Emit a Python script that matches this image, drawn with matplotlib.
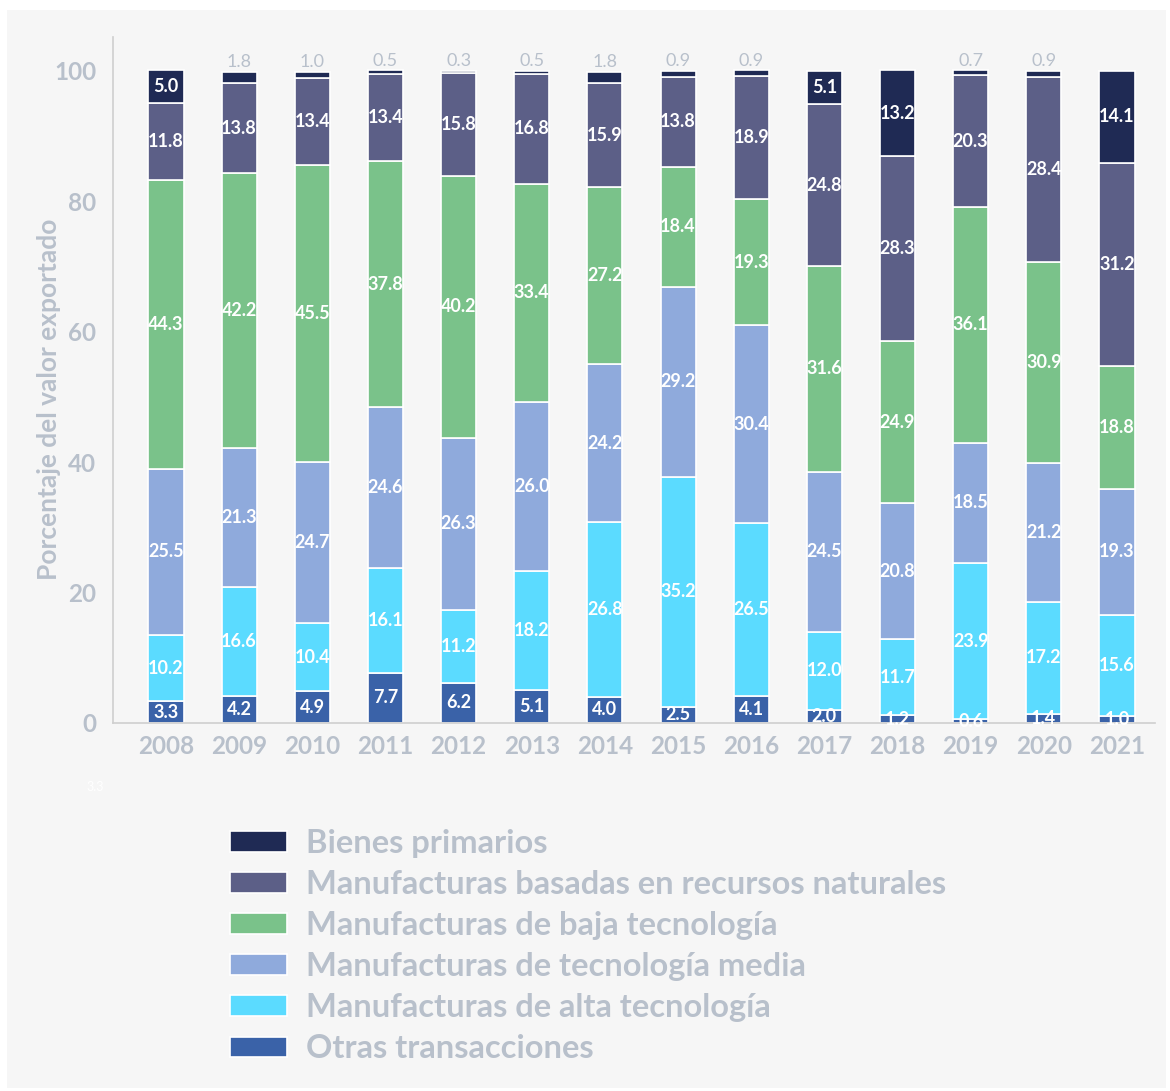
import numpy as np
import matplotlib.pyplot as plt
from matplotlib.patches import Rectangle

plt.rcParams['font.family'] = ['Lato', 'DejaVu Sans']

years = ['2008', '2009', '2010', '2011', '2012', '2013', '2014',
         '2015', '2016', '2017', '2018', '2019', '2020', '2021']

# stacked from bottom to top
otras = [3.3, 4.2, 4.9, 7.7, 6.2, 5.1, 4.0, 2.5, 4.1, 2.0, 1.2, 0.6, 1.4, 1.0]
alta = [10.2, 16.6, 10.4, 16.1, 11.2, 18.2, 26.8, 35.2, 26.5, 12.0, 11.7, 23.9, 17.2, 15.6]
media = [25.5, 21.3, 24.7, 24.6, 26.3, 26.0, 24.2, 29.2, 30.4, 24.5, 20.8, 18.5, 21.2, 19.3]
baja = [44.3, 42.2, 45.5, 37.8, 40.2, 33.4, 27.2, 18.4, 19.3, 31.6, 24.9, 36.1, 30.9, 18.8]
recursos = [11.8, 13.8, 13.4, 13.4, 15.8, 16.8, 15.9, 13.8, 18.9, 24.8, 28.3, 20.3, 28.4, 31.2]
primarios = [5.0, 1.8, 1.0, 0.5, 0.3, 0.5, 1.8, 0.9, 0.9, 5.1, 13.2, 0.7, 0.9, 14.1]

series = [
    ('Otras transacciones', otras, '#3A62A8'),
    ('Manufacturas de alta tecnología', alta, '#5BDBFF'),
    ('Manufacturas de tecnología media', media, '#8FAADC'),
    ('Manufacturas de baja tecnología', baja, '#7AC28A'),
    ('Manufacturas basadas en recursos naturales', recursos, '#5C5F87'),
    ('Bienes primarios', primarios, '#1F2A54'),
]

gray = '#B8C0CB'
bg = '#F6F6F6'

fig = plt.figure(figsize=(11.7, 10.91), dpi=100, facecolor='white')
fig.patches.append(Rectangle((7 / 1170, 1 - 1088 / 1091), 1159 / 1170, 1078 / 1091,
                             transform=fig.transFigure, facecolor=bg, edgecolor='none', zorder=-5))

ax = fig.add_axes([113 / 1170, 1 - 723 / 1091, 1042 / 1170, 686 / 1091])
ax.set_facecolor('none')

x = np.arange(len(years))
bottom = np.zeros(len(years))
handles = []
for name, vals, color in series:
    vals = np.array(vals)
    b = ax.bar(x, vals, 0.48, bottom=bottom, color=color, edgecolor='white',
               linewidth=1.2, label=name)
    handles.append(b)
    for i, v in enumerate(vals):
        if name == 'Bienes primarios' and v < 3:
            ax.text(x[i], bottom[i] + v + 0.25, f'{v:.1f}', ha='center', va='bottom',
                    color=gray, fontsize=13)
        else:
            ax.text(x[i], bottom[i] + v / 2, f'{v:.1f}', ha='center', va='center',
                    color='white', fontsize=13, fontweight='bold')
    bottom += vals

ax.set_xlim(-0.725, 13.52)
ax.set_ylim(0, 105.2)
ax.set_xticks(x)
ax.set_xticklabels(years)
ax.set_yticks([0, 20, 40, 60, 80, 100])
ax.tick_params(axis='both', length=0, labelcolor=gray, labelsize=17.5)
ax.tick_params(axis='y', pad=12)
ax.tick_params(axis='x', pad=9)
for lab in ax.get_xticklabels() + ax.get_yticklabels():
    lab.set_fontweight('bold')
for s in ['top', 'right']:
    ax.spines[s].set_visible(False)
for s in ['left', 'bottom']:
    ax.spines[s].set_color('#CFCFCF')
    ax.spines[s].set_linewidth(1.2)

ax.set_ylabel('Porcentaje del valor exportado', color=gray, fontsize=19,
              fontweight='bold')
ax.yaxis.set_label_coords(-0.05, 0.472)

fig.text(95 / 1170, 1 - 787 / 1091, '3.3', color='white', fontsize=9, ha='center', va='center')

fig.legend(handles[::-1], [s[0] for s in series][::-1], loc='upper left',
           bbox_to_anchor=(230 / 1170, 1 - 829 / 1091), frameon=False,
           labelcolor=gray, prop={'weight': 'bold', 'size': 23.5},
           handlelength=1.75, handleheight=0.6, handletextpad=0.58,
           labelspacing=0.37, borderpad=0, borderaxespad=0)

fig.savefig('out.png', dpi=100, facecolor='white')
